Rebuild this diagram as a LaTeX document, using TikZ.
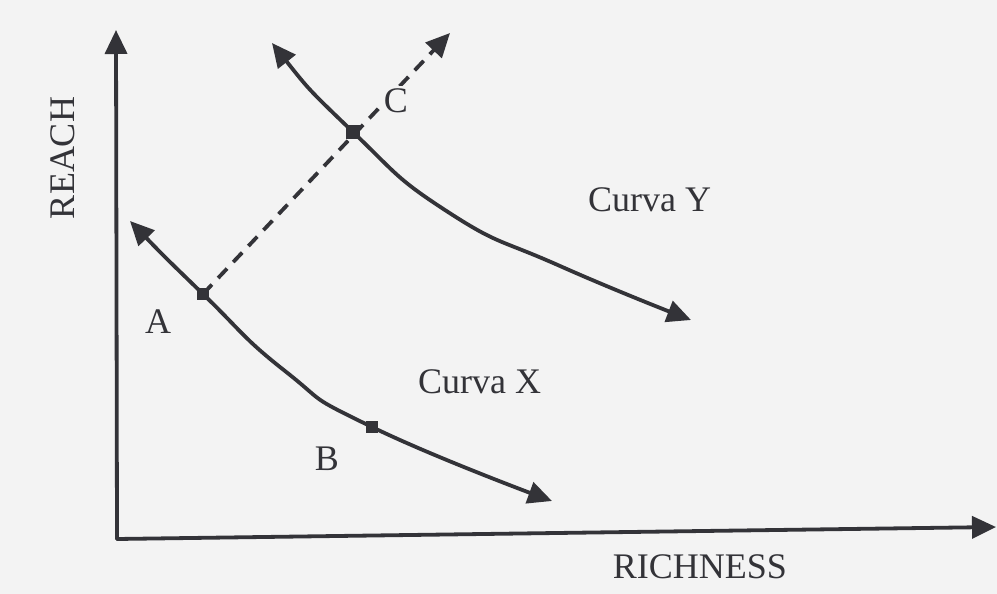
\documentclass[tikz,border=0pt]{standalone}
\usepackage{fontspec}
\setmainfont{Liberation Serif}
\usetikzlibrary{arrows.meta}
\definecolor{ink}{HTML}{333338}
\definecolor{paper}{HTML}{F3F3F3}
\begin{document}
\begin{tikzpicture}[x=1pt,y=-1pt,
  line/.style={draw=ink,line width=3.8pt,line cap=round},
  tip/.style={-{Triangle[length=24pt,width=22pt]}},
  tips/.style={{Triangle[length=24pt,width=22pt]}-{Triangle[length=24pt,width=22pt]}},
  dot/.style={fill=ink,minimum size=12pt,inner sep=0pt},
  lbl/.style={text=ink,font=\fontsize{36}{40}\selectfont,inner sep=0pt}]
\fill[paper] (0,0) rectangle (997,594);
\useasboundingbox (0,0) rectangle (997,594);
% axes
\coordinate (O) at (117,539);
\coordinate (ytop) at (116,30);
\coordinate (xend) at (996,527);
\draw[line,tip] (O) -- (ytop);
\draw[line,tip] (O) -- (xend);
% points
\coordinate (A) at (203,294);
\coordinate (B) at (372,427);
\coordinate (C) at (353,132);
\coordinate (dtip) at (450,33);
% curve Y
\draw[line,tips] plot[smooth,tension=0.9] coordinates {(272,43) (C) (448,212) (560,266) (691,320)};
% curve X
\draw[line,tips] plot[smooth,tension=0.9] coordinates {(130,221) (A) (285,371) (B) (552,501)};
% dashed line
\draw[line,line cap=butt,dash pattern=on 13pt off 9pt,tip] (A) -- (dtip);
% markers
\node[dot] (mA) at (A) {};
\node[dot] (mB) at (B) {};
\node[dot,minimum size=14pt] (mC) at (C) {};
% labels
\node[lbl] (lA) at (158,322) {A};
\node[lbl] (lB) at (327,459) {B};
\node[lbl,fill=paper,inner sep=3pt] (lC) at (396,101) {C};
\node[lbl,anchor=west] (lY) at (588,200) {Curva Y};
\node[lbl,anchor=west] (lX) at (418,382) {Curva X};
\node[lbl,rotate=90] (reach) at (63,158) {REACH};
\node[lbl] (rich) at (700,567) {RICHNESS};
\end{tikzpicture}
\end{document}
